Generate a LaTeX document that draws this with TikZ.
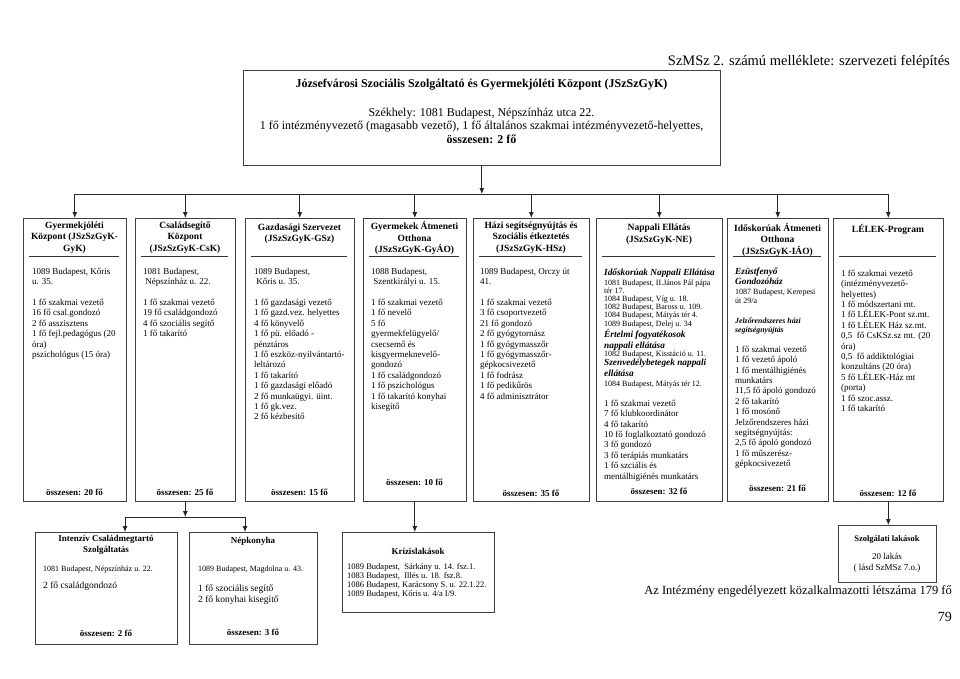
\documentclass[tikz,border=0pt]{standalone}
\usepackage{fontspec}
\setmainfont{Liberation Serif}
\usetikzlibrary{arrows.meta,shadows}
\begin{document}
\begin{tikzpicture}[x=1pt,y=-1pt,
  box/.style={draw=black!75, line width=0.6pt, fill=white, inner sep=0pt, anchor=north west,
    drop shadow={shadow xshift=0.3pt,shadow yshift=-1.1pt,fill=black!45,opacity=1}},
  arr/.style={draw=black!85, line width=0.8pt, -{Latex[length=6pt,width=5pt]}},
  ln/.style={draw=black!85, line width=0.8pt},
  rule/.style={draw=black!80, line width=0.7pt},
  hd/.style={font=\fontsize{9.5}{11.5}\selectfont\bfseries, align=center, inner sep=0pt, anchor=north, execute at begin node=\strut},
  bd/.style={font=\fontsize{9}{10.4}\selectfont, align=left, inner sep=0pt, anchor=north west, execute at begin node=\strut},
  sm/.style={font=\fontsize{8}{8.2}\selectfont, align=left, inner sep=0pt, anchor=north west, execute at begin node=\strut},
  smn/.style={font=\fontsize{8.5}{9}\selectfont, align=left, inner sep=0pt, anchor=north west, execute at begin node=\strut},
  bi/.style={font=\fontsize{9.3}{11}\selectfont\bfseries\itshape, align=left, inner sep=0pt, anchor=north west, execute at begin node=\strut},
  bis/.style={font=\fontsize{7.8}{9}\selectfont\bfseries\itshape, align=left, inner sep=0pt, anchor=north west, execute at begin node=\strut},
  tot/.style={font=\fontsize{9}{11}\selectfont\bfseries, inner sep=0pt, anchor=base},
]
\useasboundingbox (0,0) rectangle (960,679);

% title
\node[font=\fontsize{14.5}{16}\selectfont, inner sep=0pt, anchor=base east] (title) at (950,66) {SzMSz 2. számú melléklete: szervezeti felépítés};

% top box
\node[box, minimum width=477pt, minimum height=95pt] (top) at (243,70) {};
\node[font=\fontsize{12}{13.5}\selectfont\bfseries, inner sep=0pt, anchor=base] (toph) at (481.5,88) {Józsefvárosi Szociális Szolgáltató és Gyermekjóléti Központ (JSzSzGyK)};
\node[font=\fontsize{12}{13.5}\selectfont, align=center, inner sep=0pt, anchor=north, execute at begin node=\strut] (topt) at (481.5,107.5)
  {Székhely: 1081 Budapest, Népszínház utca 22.\\1 fő intézményvezető (magasabb vezető), 1 fő általános szakmai intézményvezető-helyettes,\\\textbf{összesen: 2 fő}};

% column boxes
\node[box, minimum width=103pt, minimum height=283pt] (c1) at (23,218) {};
\node[box, minimum width=100pt, minimum height=283pt] (c2) at (135,218) {};
\node[box, minimum width=109pt, minimum height=283pt] (c3) at (245,218) {};
\node[box, minimum width=103pt, minimum height=283pt] (c4) at (363,218) {};
\node[box, minimum width=116pt, minimum height=283pt] (c5) at (473,218) {};
\node[box, minimum width=126pt, minimum height=283pt] (c6) at (596,218) {};
\node[box, minimum width=101pt, minimum height=283pt] (c7) at (727,218) {};
\node[box, minimum width=110pt, minimum height=283pt] (c8) at (833,218) {};

% header rules
\foreach \c in {c1,c2,c3,c4,c5,c6,c7,c8}{
  \draw[rule] ([shift={(6,38)}]\c.north west) -- ([shift={(-8,38)}]\c.north east);
}

% headers
\node[hd] (h1) at (74.5,221.5) {Gyermekjóléti\\Központ (JSzSzGyK-\\GyK)};
\node[hd] (h2) at (185,221.5) {Családsegítő\\Központ\\(JSzSzGyK-CsK)};
\node[hd] (h3) at (299.5,223.5) {Gazdasági Szervezet\\(JSzSzGyK-GSz)};
\node[hd] (h4) at (414.5,221.5) {Gyermekek Átmeneti\\Otthona\\(JSzSzGyK-GyÁO)};
\node[hd] (h5) at (531,221.5) {Házi segítségnyújtás és\\Szociális étkeztetés\\(JSzSzGyK-HSz)};
\node[hd] (h6) at (659,224) {Nappali Ellátás\\(JSzSzGyK-NE)};
\node[hd] (h7) at (777.5,223) {Időskorúak Átmeneti\\Otthona\\(JSzSzGyK-IÁO)};
\node[hd] (h8) at (888,224.5) {LÉLEK-Program};

% bodies
\node[bd] (t1) at (32,267.8) {1089 Budapest, Kőris\\u. 35.\\[10.4pt]1 fő szakmai vezető\\16 fő csal.gondozó\\2 fő asszisztens\\1 fő fejl.pedagógus (20\\óra)\\pszichológus (15 óra)};
\node[bd] (t2) at (143,267.8) {1081 Budapest,\\\ Népszínház u. 22.\\[10.4pt]1 fő szakmai vezető\\19 fő családgondozó\\4 fő szociális segítő\\1 fő takarító};
\node[bd] (t3) at (254,267.8) {1089 Budapest,\\\ Kőris u. 35.\\[10.4pt]1 fő gazdasági vezető\\1 fő gazd.vez. helyettes\\4 fő könyvelő\\1 fő pü. előadó -\\pénztáros\\1 fő eszköz-nyilvántartó-\\leltározó\\1 fő takarító\\1 fő gazdasági előadó\\2 fő munkaügyi. üint.\\1 fő gk.vez.\\2 fő kézbesítő};
\node[bd] (t4) at (371,267.8) {1088 Budapest,\\\ Szentkirályi u. 15.\\[10.4pt]1 fő szakmai vezető\\1 fő nevelő\\5 fő\\gyermekfelügyelő/\\csecsemő és\\kisgyermeknevelő-\\gondozó\\1 fő családgondozó\\1 fő pszichológus\\1 fő takarító konyhai\\kisegítő};
\node[bd] (t5) at (480,267.8) {1089 Budapest, Orczy út\\41.\\[10.4pt]1 fő szakmai vezető\\3 fő csoportvezető\\21 fő gondozó\\2 fő gyógytornász\\1 fő gyógymasszőr\\1 fő gyógymasszőr-\\gépkocsivezető\\1 fő fodrász\\1 fő pedikűrös\\4 fő adminisztrátor};

% column 6
\node[bi] (t6a) at (604,267.3) {Időskorúak Nappali Ellátása};
\node[sm] (t6b) at (604,279.3) {1081 Budapest, II.János Pál pápa\\tér 17.\\1084 Budapest, Víg u. 18.\\1082 Budapest, Baross u. 109.\\1084 Budapest, Mátyás tér 4.\\1089 Budapest, Delej u. 34};
\node[bi] (t6c) at (604,329.3) {Értelmi fogyatékosok\\nappali ellátása};
\node[sm] (t6d) at (604,350.8) {1082 Budapest, Kisstáció u. 11.};
\node[bi] (t6e) at (604,358.8) {Szenvedélybetegek nappali\\ellátása};
\node[sm] (t6f) at (604,380.8) {1084 Budapest, Mátyás tér 12.};
\node[bd] (t6g) at (604,399.8) {1 fő szakmai vezető\\7 fő klubkoordinátor\\4 fő takarító\\10 fő foglalkoztató gondozó\\3 fő gondozó\\3 fő terápiás munkatárs\\1 fő szciális és\\mentálhigiénés munkatárs};

% column 7
\node[bi, font=\fontsize{9.3}{10}\selectfont\bfseries\itshape] (t7a) at (735,268) {Ezüstfenyő\\Gondozóház};
\node[sm, font=\fontsize{8}{9}\selectfont] (t7b) at (735,289) {1087 Budapest, Kerepesi\\út 29/a};
\node[bis] (t7c) at (735,317.7) {Jelzőrendszeres házi\\segítségnyújtás};
\node[bd] (t7d) at (735,345.8) {1 fő szakmai vezető\\1 fő vezető ápoló\\1 fő mentálhigiénés\\munkatárs\\11,5 fő ápoló gondozó\\2 fő takarító\\1 fő mosónő\\Jelzőrendszeres házi\\segítségnyújtás:\\2,5 fő ápoló gondozó\\1 fő műszerész-\\gépkocsivezető};

% column 8
\node[bd] (t8) at (841,269.8) {1 fő szakmai vezető\\(intézményvezető-\\helyettes)\\1 fő módszertani mt.\\1 fő LÉLEK-Pont sz.mt.\\1 fő LÉLEK Ház sz.mt.\\0,5~ fő CsKSz.sz mt. (20\\óra)\\0,5~ fő addiktológiai\\konzultáns (20 óra)\\5 fő LÉLEK-Ház mt\\(porta)\\1 fő szoc.assz.\\1 fő takarító};

% totals
\node[tot] (s1) at (74.5,495) {összesen: 20 fő};
\node[tot] (s2) at (185,495) {összesen: 25 fő};
\node[tot] (s3) at (299.5,495) {összesen: 15 fő};
\node[tot] (s4) at (414.5,485) {összesen: 10 fő};
\node[tot] (s5) at (531,496) {összesen: 35 fő};
\node[tot] (s6) at (659,494) {összesen: 32 fő};
\node[tot] (s7) at (777.5,491) {összesen: 21 fő};
\node[tot] (s8) at (888,496) {összesen: 12 fő};

% bottom boxes
\node[box, minimum width=142pt, minimum height=112pt] (b1) at (35,532) {};
\node[box, minimum width=128pt, minimum height=112pt] (b2) at (189,532) {};
\node[box, minimum width=152pt, minimum height=80pt] (b3) at (342,532) {};
\node[box, minimum width=98pt, minimum height=57pt] (b4) at (838,525) {};

\node[hd, font=\fontsize{9}{11}\selectfont\bfseries] (bh1) at (106,535.3) {Intenzív Családmegtartó\\Szolgáltatás};
\node[sm] (bt1a) at (43,565.4) {1081 Budapest, Népszínház u. 22.};
\node[bd, font=\fontsize{9.5}{10.4}\selectfont] (bt1b) at (43,580.8) {2 fő családgondozó};
\node[tot] (bs1) at (106,636) {összesen: 2 fő};

\node[hd, font=\fontsize{9}{11}\selectfont\bfseries] (bh2) at (253,535.3) {Népkonyha};
\node[sm] (bt2a) at (198,565.4) {1089 Budapest, Magdolna u. 43.};
\node[bd, font=\fontsize{9.5}{10.4}\selectfont] (bt2b) at (198,584.8) {1 fő szociális segítő\\2 fő konyhai kisegítő};
\node[tot] (bs2) at (253,635) {összesen: 3 fő};

\node[hd, font=\fontsize{9}{11}\selectfont\bfseries] (bh3) at (418,546.3) {Krízislakások};
\node[smn] (bt3) at (347,563.7) {1089 Budapest,~ Sárkány u. 14. fsz.1.\\1083 Budapest,~ Illés u. 18. fsz.8.\\1086 Budapest, Karácsony S. u. 22.1.22.\\1089 Budapest, Kőris u. 4/a I/9.};

\node[font=\fontsize{8.5}{9}\selectfont\bfseries, inner sep=0pt, anchor=base] (bh4) at (887,541) {Szolgálati lakások};
\node[font=\fontsize{9}{11}\selectfont, align=center, inner sep=0pt, anchor=north, execute at begin node=\strut] (bt4) at (887,553.3) {20 lakás\\( lásd SzMSz 7.o.)};

% footer texts
\node[font=\fontsize{12.5}{14}\selectfont, inner sep=0pt, anchor=base east] (sum) at (952,594) {Az Intézmény engedélyezett közalkalmazotti létszáma 179 fő};
\node[font=\fontsize{14}{16}\selectfont, inner sep=0pt, anchor=base east] (page) at (952,621) {79};

% connectors
\coordinate (bus) at (0,194);
\draw[arr] (top.south) -- (top.south |- bus);
\draw[ln] (c1.north |- bus) -- (c8.north |- bus);
\foreach \c in {c1,c2,c3,c4,c5,c6,c7,c8}{
  \draw[arr] (\c.north |- bus) -- (\c.north);
}
\coordinate (sub) at (0,517);
\coordinate (j1) at (125,517);
\coordinate (j2) at (245,517);
\draw[arr] (c2.south) -- (c2.south |- sub);
\draw[ln] (j1) -- (j2);
\draw[arr] (j1) -- (j1 |- b1.north);
\draw[arr] (j2) -- (j2 |- b2.north);
\draw[arr] (c4.south) -- (c4.south |- b3.north);
\draw[arr] (c8.south) -- (c8.south |- b4.north);
\end{tikzpicture}
\end{document}
